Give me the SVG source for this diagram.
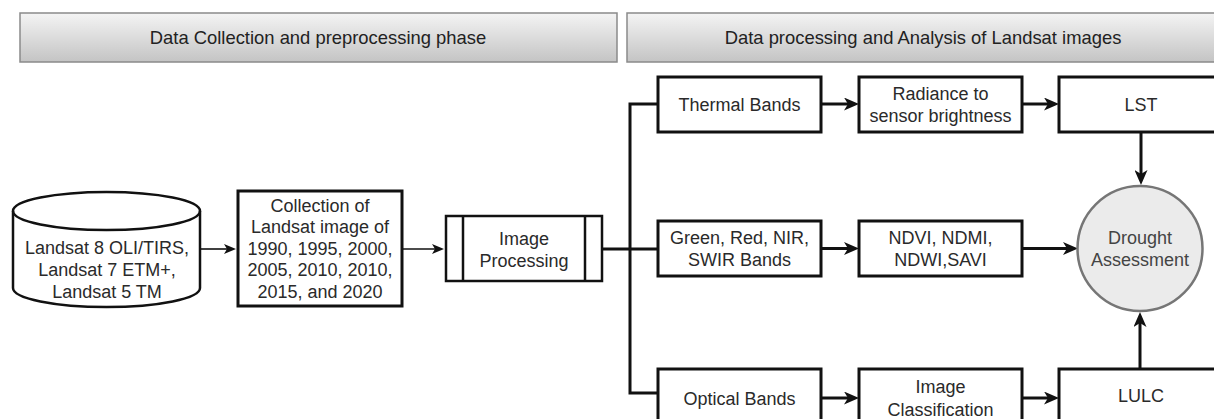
<svg xmlns="http://www.w3.org/2000/svg" width="1214" height="419" viewBox="0 0 1214 419">
<style>
text{font-family:"Liberation Sans",Arial,sans-serif;font-size:18px;fill:#2a2a2a;text-anchor:middle}
.hdr{fill:url(#hg);stroke:#8a8a8a;stroke-width:1.5}
.hdrt{font-size:18.4px;fill:#222}
.box{fill:#fff;stroke:#111;stroke-width:3}
.thin{fill:none;stroke:#111;stroke-width:1.6}
.thick{fill:none;stroke:#111;stroke-width:3}
.circ{fill:#ebebeb;stroke:#767676;stroke-width:2.5}
.ct{fill:#444}
</style>
<defs>
<linearGradient id="hg" x1="0" y1="0" x2="0" y2="1">
<stop offset="0" stop-color="#f4f4f4"/>
<stop offset="1" stop-color="#c4c4c4"/>
</linearGradient>
<marker id="ah" markerUnits="userSpaceOnUse" markerWidth="15" markerHeight="13" viewBox="0 0 15 13" refX="9" refY="6.5" orient="auto">
<path d="M0,0 L15,6.5 L0,13 L4,6.5 Z" fill="#111"/>
</marker>
<marker id="as" markerUnits="userSpaceOnUse" markerWidth="12" markerHeight="10" viewBox="0 0 12 10" refX="8" refY="5" orient="auto">
<path d="M0,0 L12,5 L0,10 L3,5 Z" fill="#111"/>
</marker>
</defs>
<rect width="1214" height="419" fill="#fff"/>

<g id="header-left">
<rect class="hdr" x="20" y="13" width="597" height="49"/>
<text class="hdrt" x="318" y="44">Data Collection and preprocessing phase</text>
</g>
<g id="header-right">
<rect class="hdr" x="627" y="13" width="594" height="49"/>
<text class="hdrt" x="923" y="44">Data processing and Analysis of Landsat images</text>
</g>

<g id="connectors">
<line class="thin" x1="200" y1="249" x2="232" y2="249" marker-end="url(#as)"/>
<line class="thin" x1="402" y1="249" x2="440" y2="249" marker-end="url(#as)"/>
<line class="thick" x1="602" y1="249" x2="658" y2="249"/>
<polyline class="thick" points="659,104 630,104 630,393 659,393"/>
<line class="thick" x1="821" y1="104" x2="853" y2="104" marker-end="url(#ah)"/>
<line class="thick" x1="1022" y1="104" x2="1053" y2="104" marker-end="url(#ah)"/>
<line class="thick" x1="1141" y1="132" x2="1141" y2="179" marker-end="url(#ah)"/>
<line class="thick" x1="821" y1="248.5" x2="853" y2="248.5" marker-end="url(#ah)"/>
<line class="thick" x1="1022" y1="248.5" x2="1072" y2="248.5" marker-end="url(#ah)"/>
<line class="thick" x1="821" y1="398" x2="853" y2="398" marker-end="url(#ah)"/>
<line class="thick" x1="1022" y1="398" x2="1053" y2="398" marker-end="url(#ah)"/>
<line class="thick" x1="1140" y1="369" x2="1140" y2="318" marker-end="url(#ah)"/>
</g>

<g id="landsat-db">
<path d="M13,211 A93.5,19 0 0 1 200,211 L200,288 A93.5,19 0 0 1 13,288 Z" fill="#fff" stroke="#111" stroke-width="2.5"/>
<path d="M13,211 A93.5,19 0 0 0 200,211" fill="none" stroke="#111" stroke-width="2.5"/>
<text x="107" y="253.5">Landsat 8 OLI/TIRS,</text>
<text x="107" y="275.5">Landsat 7 ETM+,</text>
<text x="107" y="297.5">Landsat 5 TM</text>
</g>

<g id="collection">
<rect class="box" x="238" y="191" width="164" height="115"/>
<text x="320" y="211.5">Collection of</text>
<text x="320" y="233">Landsat image of</text>
<text x="320" y="254.5">1990, 1995, 2000,</text>
<text x="320" y="276">2005, 2010, 2010,</text>
<text x="320" y="297.5">2015, and 2020</text>
</g>

<g id="image-processing">
<rect x="446" y="216" width="156" height="65" fill="#fff" stroke="#111" stroke-width="2.5"/>
<line x1="463" y1="216" x2="463" y2="281" stroke="#111" stroke-width="2.5"/>
<line x1="585" y1="216" x2="585" y2="281" stroke="#111" stroke-width="2.5"/>
<text x="524" y="244.5">Image</text>
<text x="524" y="266.5">Processing</text>
</g>

<g id="thermal">
<rect class="box" x="658" y="77" width="163" height="55"/>
<text x="739.5" y="110.5">Thermal Bands</text>
</g>
<g id="radiance">
<rect class="box" x="859" y="77" width="163" height="55"/>
<text x="940.5" y="99.5">Radiance to</text>
<text x="940.5" y="121.5">sensor brightness</text>
</g>
<g id="lst">
<rect class="box" x="1059" y="77" width="164" height="55"/>
<text x="1141" y="110.5">LST</text>
</g>

<g id="green">
<rect class="box" x="658" y="221" width="163" height="55"/>
<text x="739.5" y="244">Green, Red, NIR,</text>
<text x="739.5" y="266">SWIR Bands</text>
</g>
<g id="indices">
<rect class="box" x="859" y="221" width="163" height="55"/>
<text x="940.5" y="244">NDVI, NDMI,</text>
<text x="940.5" y="266">NDWI,SAVI</text>
</g>
<g id="drought">
<circle class="circ" cx="1140" cy="248.5" r="62.5"/>
<text class="ct" x="1140" y="243.5">Drought</text>
<text class="ct" x="1140" y="265.5">Assessment</text>
</g>

<g id="optical">
<rect class="box" x="658" y="369" width="163" height="60"/>
<text x="739.5" y="404.5">Optical Bands</text>
</g>
<g id="classification">
<rect class="box" x="859" y="369" width="163" height="60"/>
<text x="940.5" y="392.5">Image</text>
<text x="940.5" y="415.5">Classification</text>
</g>
<g id="lulc">
<rect class="box" x="1059" y="369" width="164" height="60"/>
<text x="1141" y="401.5">LULC</text>
</g>
</svg>
